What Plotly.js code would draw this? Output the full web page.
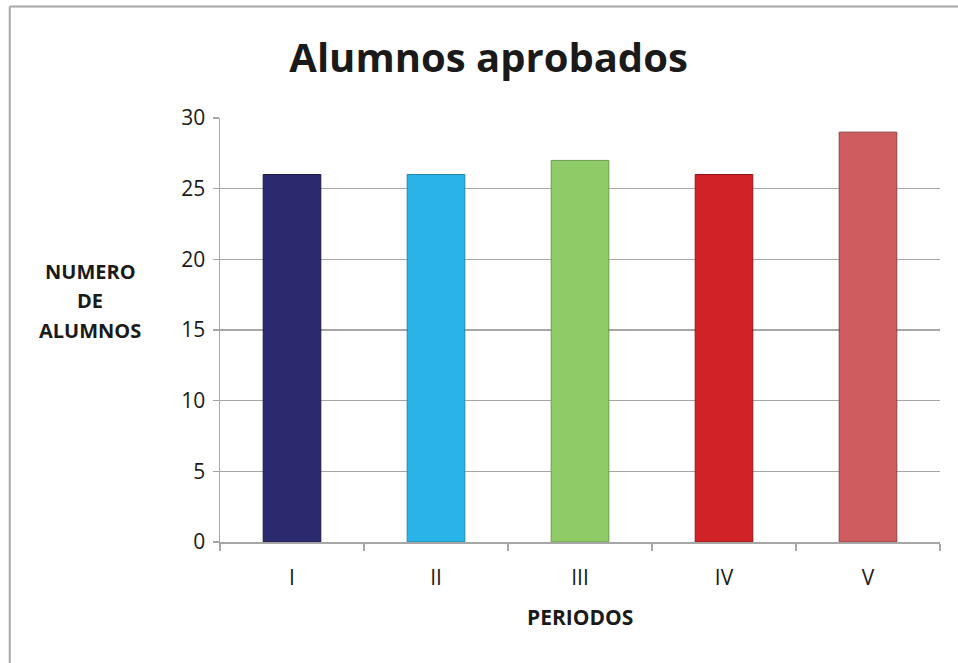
<!DOCTYPE html>
<html>
<head>
<meta charset="utf-8">
<script src="https://cdn.plot.ly/plotly-3.0.1.min.js"></script>
<style>html,body{margin:0;padding:0;background:#fff;}#chart{width:958px;height:663px;}</style>
</head>
<body>
<div id="chart"></div>
<script>
const periodos = ["I", "II", "III", "IV", "V"];
const alumnos = [26, 26, 27, 26, 29];
const colores = ["#2b2a6e", "#2ab3e6", "#8fcb66", "#d02227", "#cf5d60"];
const bordes = ["#1a1a45", "#1f86ac", "#6a9a4b", "#8e1619", "#8e3f41"];
const yTicks = [0, 5, 10, 15, 20, 25, 30];
const yTitleLines = ["NUMERO", "DE", "ALUMNOS"];

const F = "'Open Sans', Lato, sans-serif";
const trace = {
  type: "bar",
  x: periodos,
  y: alumnos,
  marker: {color: colores, line: {color: bordes, width: 1}},
  hoverinfo: "none"
};
const yTitleAnn = yTitleLines.map((t, i) => ({
  text: "<b>" + t + "</b>", xref: "paper", yref: "paper", x: -0.18, y: 0.637 - i * 0.0685,
  xanchor: "center", yanchor: "middle", showarrow: false,
  font: {family: F, size: 20, color: "#1a1a1a"}
}));
const layout = {
  width: 958, height: 663,
  margin: {l: 220, r: 18, t: 118, b: 121},
  paper_bgcolor: "#ffffff", plot_bgcolor: "#ffffff",
  showlegend: false,
  bargap: 0.6,
  title: {text: "<b>Alumnos aprobados</b>", font: {family: F, size: 40, color: "#1a1a1a"}, x: 0.51, xanchor: "center", y: 0.913, yanchor: "middle"},
  xaxis: {
    type: "category", tickson: "boundaries", ticks: "outside", ticklen: 7, tickcolor: "#a6a6a6", tickwidth: 1.5,
    showline: true, linecolor: "#a6a6a6", linewidth: 1.5, showgrid: false,
    tickfont: {family: F, size: 21, color: "#1a1a1a"}, ticklabelstandoff: 16
  },
  yaxis: {
    range: [0, 30], tickvals: yTicks, ticks: "outside", ticklen: 6, tickcolor: "#a6a6a6", tickwidth: 1.5,
    showline: true, linecolor: "#a6a6a6", linewidth: 1.5, showgrid: true, gridcolor: "#a6a6a6", gridwidth: 1.5,
    zeroline: false, tickfont: {family: F, size: 21, color: "#1a1a1a"}, ticklabelstandoff: 3
  },
  annotations: yTitleAnn.concat([{
    text: "<b>PERIODOS</b>", xref: "paper", yref: "paper", x: 0.5, y: -0.177, xanchor: "center", yanchor: "middle",
    showarrow: false, font: {family: F, size: 21, color: "#1a1a1a"}
  }]),
  shapes: [
    {type: "line", xref: "paper", yref: "paper", x0: -0.292, x1: 1.1, y0: 1.263, y1: 1.263, line: {color: "#a6a6a6", width: 2}},
    {type: "line", xref: "paper", yref: "paper", x0: -0.292, x1: -0.292, y0: 1.263, y1: -0.3, line: {color: "#a6a6a6", width: 2}}
  ]
};
Plotly.newPlot("chart", [trace], layout, {displayModeBar: false, staticPlot: true});
</script>
</body>
</html>
